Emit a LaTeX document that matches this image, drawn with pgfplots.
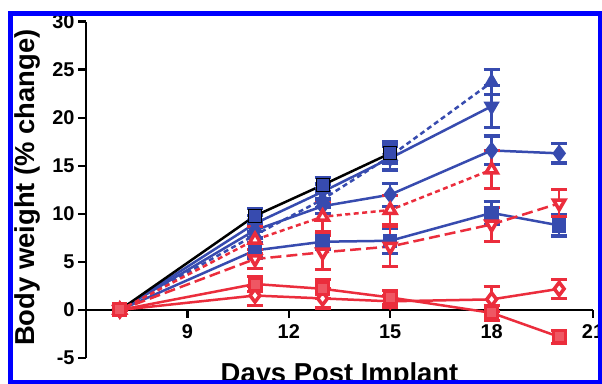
\documentclass[border=0pt]{standalone}
\usepackage{fontspec}
\setmainfont{Liberation Sans}
\usepackage{pgfplots}
\pgfplotsset{compat=1.18}
\definecolor{bl}{RGB}{55,75,175}
\definecolor{rd}{RGB}{235,45,60}
\pgfplotsset{
  eb/.style={/pgfplots/error bars/y dir=both, /pgfplots/error bars/y explicit,
    /pgfplots/error bars/error bar style={solid,line width=2.5bp,color=#1},
    /pgfplots/error bars/error mark options={rotate=90,solid,line width=3.2bp,mark size=8bp,color=#1}},
}
\begin{document}
\begin{tikzpicture}
\useasboundingbox (0bp,0bp) rectangle (602bp,384bp);
\fill[white] (0bp,0bp) rectangle (602bp,384bp);
\begin{scope}
\clip (10.5bp,1bp) rectangle (600bp,370.5bp);
\begin{axis}[
  scale only axis, width=507bp, height=336.3bp,
  at={(86bp,26bp)}, anchor=south west,
  xmin=6, xmax=21, ymin=-5, ymax=30, enlargelimits=false, clip=false,
  axis x line*=middle, axis y line*=left,
  xtick={9,12,15,18,21}, ytick={-5,0,5,10,15,20,25,30},
  tick align=outside, major tick length=8bp,
  tick style={line width=2.5bp, black},
  axis line style={line width=2.8bp, black},
  /pgf/number format/assume math mode=true,
  ticklabel style={font=\bfseries\fontsize{20}{20}\selectfont},
  xticklabel style={yshift=-3bp},
  xlabel={Days Post Implant},
  xlabel style={at={(axis description cs:0.5,-0.0714)}, anchor=base, font=\bfseries\fontsize{27.5}{28}\selectfont},
  ylabel={Body weight (\% change)},
  ylabel style={at={(axis description cs:-0.1006,0.507)}, anchor=base, font=\bfseries\fontsize{27.5}{28}\selectfont},
]
% E blue solid squares
\addplot[color=bl, line width=2.5bp, mark=square*, mark size=6bp, mark options={solid, fill=bl}, eb=bl]
coordinates {(7,0) +- (0,0) (11,6.2) +- (0,0.8) (13,7.1) +- (0,0.8) (15,7.2) +- (0,1.3) (18,10.1) +- (0,1.2) (20,8.8) +- (0,1.1)};
% D blue solid diamonds
\addplot[color=bl, line width=2.5bp, mark=diamond*, mark size=7bp, mark options={solid, fill=bl}, eb=bl]
coordinates {(7,0) +- (0,0) (11,8.3) +- (0,0.8) (13,10.8) +- (0,0.8) (15,12.0) +- (0,1.2) (18,16.6) +- (0,1.5) (20,16.3) +- (0,1.0)};
% C blue dotted up triangles
\addplot[color=bl, line width=2.5bp, dash pattern=on 5bp off 3.5bp, mark=triangle*, mark size=7bp, mark options={solid, fill=bl}, eb=bl]
coordinates {(7,0) +- (0,0) (11,7.8) +- (0,0.8) (13,11.5) +- (0,0.8) (15,16.0) +- (0,1.5) (18,23.7) +- (0,1.3)};
% B blue solid down triangles
\addplot[color=bl, line width=2.5bp, mark=triangle*, mark size=7bp, mark options={solid, fill=bl, rotate=180}, eb=bl]
coordinates {(7,0) +- (0,0) (11,9.0) +- (0,0.8) (13,12.3) +- (0,0.8) (15,15.8) +- (0,1.2) (18,21.2) +- (0,2.2)};
% A black line, squares
\addplot[color=black, line width=2.5bp, mark=square*, mark size=6.5bp, mark options={solid, fill=bl, draw=black, line width=1bp}, eb=bl]
coordinates {(7,0) +- (0,0) (11,9.8) +- (0,0.8) (13,13.0) +- (0,0.8) (15,16.3) +- (0,1.0)};
% F red dotted open up triangles
\addplot[color=rd, line width=2.5bp, dash pattern=on 5bp off 3.5bp, mark=triangle*, mark size=6.5bp, mark options={solid, fill=white, draw=rd, line width=3.5bp}, eb=rd]
coordinates {(7,0) +- (0,0) (11,7.3) +- (0,1.4) (13,9.7) +- (0,1.5) (15,10.4) +- (0,1.5) (18,14.6) +- (0,2.0)};
% G red dashed open down triangles
\addplot[color=rd, line width=2.5bp, dash pattern=on 11bp off 5bp, mark=triangle*, mark size=6.5bp, mark options={solid, fill=white, draw=rd, line width=3.5bp, rotate=180}, eb=rd]
coordinates {(7,0) +- (0,0) (11,5.3) +- (0,1.0) (13,6.0) +- (0,1.8) (15,6.6) +- (0,2.1) (18,8.9) +- (0,1.8) (20,11.1) +- (0,1.4)};
% H red solid open diamonds
\addplot[color=rd, line width=2.5bp, mark=diamond*, mark size=6.5bp, mark options={solid, fill=white, draw=rd, line width=3.5bp}, eb=rd]
coordinates {(7,0) +- (0,0) (11,1.5) +- (0,1.0) (13,1.2) +- (0,1.0) (15,0.9) +- (0,0.6) (18,1.1) +- (0,1.3) (20,2.2) +- (0,1.0)};
% I red solid squares
\addplot[color=rd, line width=2.5bp, mark=square*, mark size=6bp, mark options={solid, fill=rd!80!white, draw=rd, line width=3bp}, eb=rd]
coordinates {(7,0) +- (0,0) (11,2.7) +- (0,0.8) (13,2.2) +- (0,1.0) (15,1.3) +- (0,0.7) (18,-0.3) +- (0,0.8) (20,-2.8) +- (0,0.7)};
\end{axis}
\end{scope}
\draw[blue, line width=5bp] (10.5bp,1bp) rectangle (600bp,370.5bp);
\end{tikzpicture}
\end{document}
